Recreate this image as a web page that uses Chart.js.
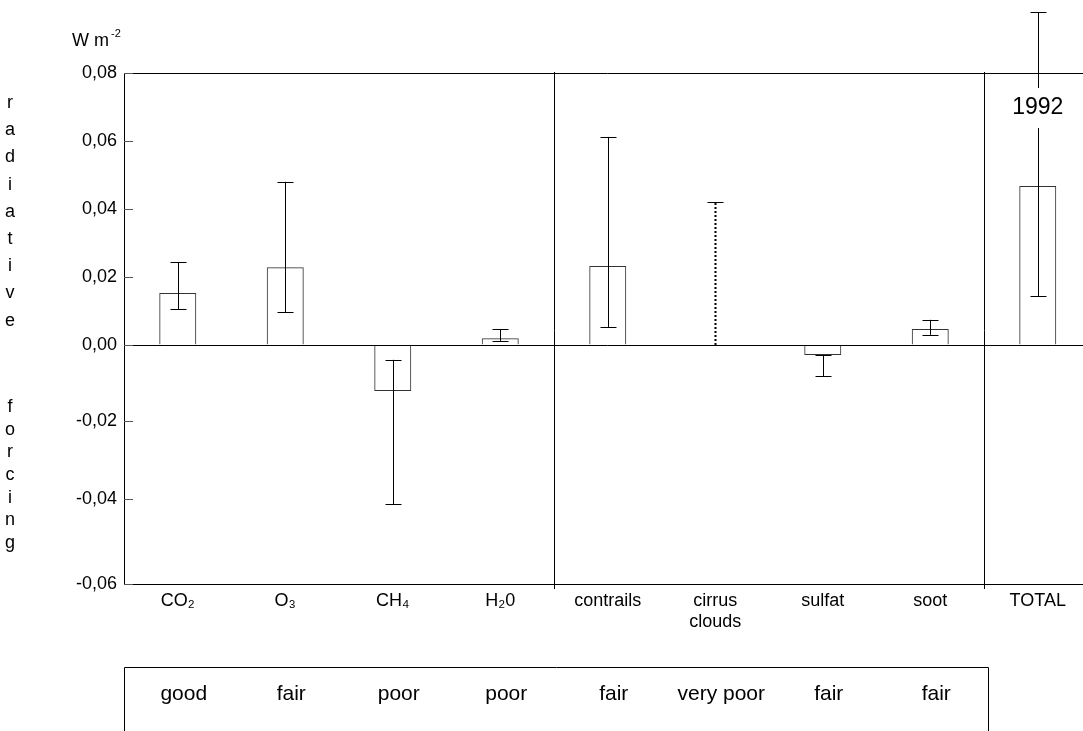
<!DOCTYPE html>
<html>
<head>
<meta charset="utf-8">
<script src="https://cdn.jsdelivr.net/npm/chart.js@4/dist/chart.umd.min.js"></script>
<style>
  html, body { margin: 0; padding: 0; background: #fff; overflow: hidden; }
  #chart { display: block; }
</style>
</head>
<body>
<canvas id="chart" width="1100" height="731"></canvas>
<script>
// data
const categories = ['CO₂', 'O₃', 'CH₄', 'H₂0', 'contrails', ['cirrus', 'clouds'], 'sulfat', 'soot', 'TOTAL'];
const forcing = [0.0153, 0.0229, -0.0121, 0.0020, 0.0232, null, -0.0026, 0.0047, 0.0468];
const errLow = [0.0106, 0.0097, -0.0412, 0.0012, 0.0053, 0.0, -0.0082, 0.0030, 0.0144];
const errHigh = [0.0244, 0.0480, -0.0039, 0.0047, 0.0612, 0.0420, -0.0026, 0.0074, 0.0979];
const quality = ['good', 'fair', 'poor', 'poor', 'fair', 'very poor', 'fair', 'fair'];
const yearLabel = '1992';
const yTitle = ['radiative', 'forcing'];

const FONT = '"Liberation Sans", Arial, sans-serif';

// the original axis is not evenly spaced below zero: each 0,02 step gets its own height
const yBreaks = [-0.06, -0.04, -0.02, 0, 0.02, 0.04, 0.06, 0.08];
const ySteps = [85, 78, 76, 68, 68, 68, 68];
const yStepTotal = ySteps.reduce((a, b) => a + b, 0);

class BentScale extends Chart.LinearScale {
  toDecimal(v) {
    const n = ySteps.length;
    let acc = 0;
    for (let i = 0; i < n; i++) {
      if (v <= yBreaks[i + 1] || i === n - 1) {
        return (acc + (v - yBreaks[i]) / (yBreaks[i + 1] - yBreaks[i]) * ySteps[i]) / yStepTotal;
      }
      acc += ySteps[i];
    }
  }
  getPixelForValue(value) {
    if (value === null || value === undefined) return NaN;
    return this.getPixelForDecimal(this.toDecimal(value));
  }
  getValueForPixel(pixel) {
    const d = this.getDecimalForPixel(pixel) * yStepTotal;
    let acc = 0;
    for (let i = 0; i < ySteps.length; i++) {
      if (d <= acc + ySteps[i] || i === ySteps.length - 1) {
        return yBreaks[i] + (d - acc) / ySteps[i] * (yBreaks[i + 1] - yBreaks[i]);
      }
      acc += ySteps[i];
    }
  }
}
BentScale.id = 'bent';
BentScale.defaults = Chart.LinearScale.defaults;
Chart.register(BentScale);

const fmt = v => {
  const r = Math.round(v * 100) / 100;
  return (r === 0 ? 0 : r).toFixed(2).replace('.', ',');
};

const extras = {
  id: 'extras',
  afterDatasetsDraw(chart) {
    const { ctx, chartArea: a, scales: { x, y } } = chart;
    const catW = x.getPixelForValue(1) - x.getPixelForValue(0);
    ctx.save();

    // frame top, zero line
    ctx.strokeStyle = '#000';
    ctx.lineWidth = 1;
    ctx.beginPath();
    ctx.moveTo(a.left, Math.round(a.top) + 0.5);
    ctx.lineTo(a.right, Math.round(a.top) + 0.5);
    const y0 = Math.round(y.getPixelForValue(0)) + 0.5;
    ctx.moveTo(a.left, y0);
    ctx.lineTo(a.right, y0);
    ctx.stroke();

    // group separators
    [3, 7].forEach(i => {
      const sx = Math.round(x.getPixelForValue(i) + catW / 2) + 0.5;
      ctx.beginPath();
      ctx.moveTo(sx, a.top - 1);
      ctx.lineTo(sx, a.bottom + 5);
      ctx.stroke();
    });

    // inward y ticks
    ctx.strokeStyle = '#555';
    y.ticks.forEach(t => {
      const ty = Math.round(y.getPixelForValue(t.value)) + 0.5;
      ctx.beginPath();
      ctx.moveTo(a.left, ty);
      ctx.lineTo(a.left + 9, ty);
      ctx.stroke();
    });

    // error bars
    ctx.strokeStyle = '#000';
    categories.forEach((c, i) => {
      const cx = Math.round(x.getPixelForValue(i)) + 0.5;
      const yl = y.getPixelForValue(errLow[i]);
      const yh = y.getPixelForValue(errHigh[i]);
      const dotted = forcing[i] === null;
      ctx.lineWidth = dotted ? 2 : 1;
      ctx.setLineDash(dotted ? [2, 2] : []);
      ctx.beginPath();
      ctx.moveTo(cx, yl);
      ctx.lineTo(cx, yh);
      ctx.stroke();
      ctx.setLineDash([]);
      ctx.lineWidth = 1;
      ctx.beginPath();
      ctx.moveTo(cx - 8, Math.round(yh) + 0.5);
      ctx.lineTo(cx + 8, Math.round(yh) + 0.5);
      if (!dotted) {
        ctx.moveTo(cx - 8, Math.round(yl) + 0.5);
        ctx.lineTo(cx + 8, Math.round(yl) + 0.5);
      }
      ctx.stroke();
    });

    // year label on the TOTAL error bar
    const last = categories.length - 1;
    const lx = x.getPixelForValue(last);
    ctx.font = '23px ' + FONT;
    ctx.fillStyle = '#fff';
    ctx.fillRect(lx - 28, 88, 56, 40);
    ctx.fillStyle = '#000';
    ctx.textAlign = 'center';
    ctx.textBaseline = 'middle';
    ctx.fillText(yearLabel, lx, 108);

    // unit
    ctx.textAlign = 'left';
    ctx.textBaseline = 'alphabetic';
    ctx.font = '18px ' + FONT;
    ctx.fillText('W m', 72, 46);
    ctx.font = '11px ' + FONT;
    ctx.fillText('-2', 111, 37);

    // vertical stacked title
    ctx.font = '18px ' + FONT;
    ctx.textAlign = 'center';
    ctx.textBaseline = 'middle';
    let ly = 103;
    yTitle[0].split('').forEach(ch => { ctx.fillText(ch, 10, ly); ly += 27.2; });
    ly = 407;
    yTitle[1].split('').forEach(ch => { ctx.fillText(ch, 10, ly); ly += 22.7; });

    // quality box
    const boxRight = Math.round(x.getPixelForValue(7) + catW / 2) + 4.5;
    ctx.beginPath();
    ctx.moveTo(a.left + 0.5, 740);
    ctx.lineTo(a.left + 0.5, 667.5);
    ctx.lineTo(boxRight, 667.5);
    ctx.lineTo(boxRight, 740);
    ctx.stroke();
    ctx.font = '21px ' + FONT;
    quality.forEach((q, i) => {
      ctx.fillText(q, x.getPixelForValue(i) + 6, 694);
    });

    ctx.restore();
  }
};

new Chart(document.getElementById('chart'), {
  type: 'bar',
  data: {
    labels: categories,
    datasets: [{
      data: forcing,
      backgroundColor: 'rgba(255,255,255,0)',
      borderColor: '#333',
      borderWidth: 1,
      barPercentage: 0.344,
      categoryPercentage: 1
    }]
  },
  options: {
    responsive: false,
    animation: false,
    devicePixelRatio: 1,
    layout: { padding: { left: 0, right: 8.5, top: 73, bottom: 0 } },
    plugins: { legend: { display: false }, tooltip: { enabled: false } },
    scales: {
      x: {
        grid: { display: false, drawTicks: false },
        border: { display: true, color: '#000', width: 1 },
        ticks: { color: '#000', font: { family: FONT, size: 18, lineHeight: 1.2 }, padding: 6, maxRotation: 0, autoSkip: false },
        afterFit: s => { s.height = 731 - 584; }
      },
      y: {
        type: 'bent',
        min: -0.06,
        max: 0.08,
        grid: { drawOnChartArea: false, drawTicks: false },
        border: { display: true, color: '#000', width: 1 },
        ticks: { stepSize: 0.02, color: '#000', font: { family: FONT, size: 18 }, padding: 7, callback: v => fmt(v) },
        afterFit: s => { s.width = 124; }
      }
    }
  },
  plugins: [extras]
});
</script>
</body>
</html>
